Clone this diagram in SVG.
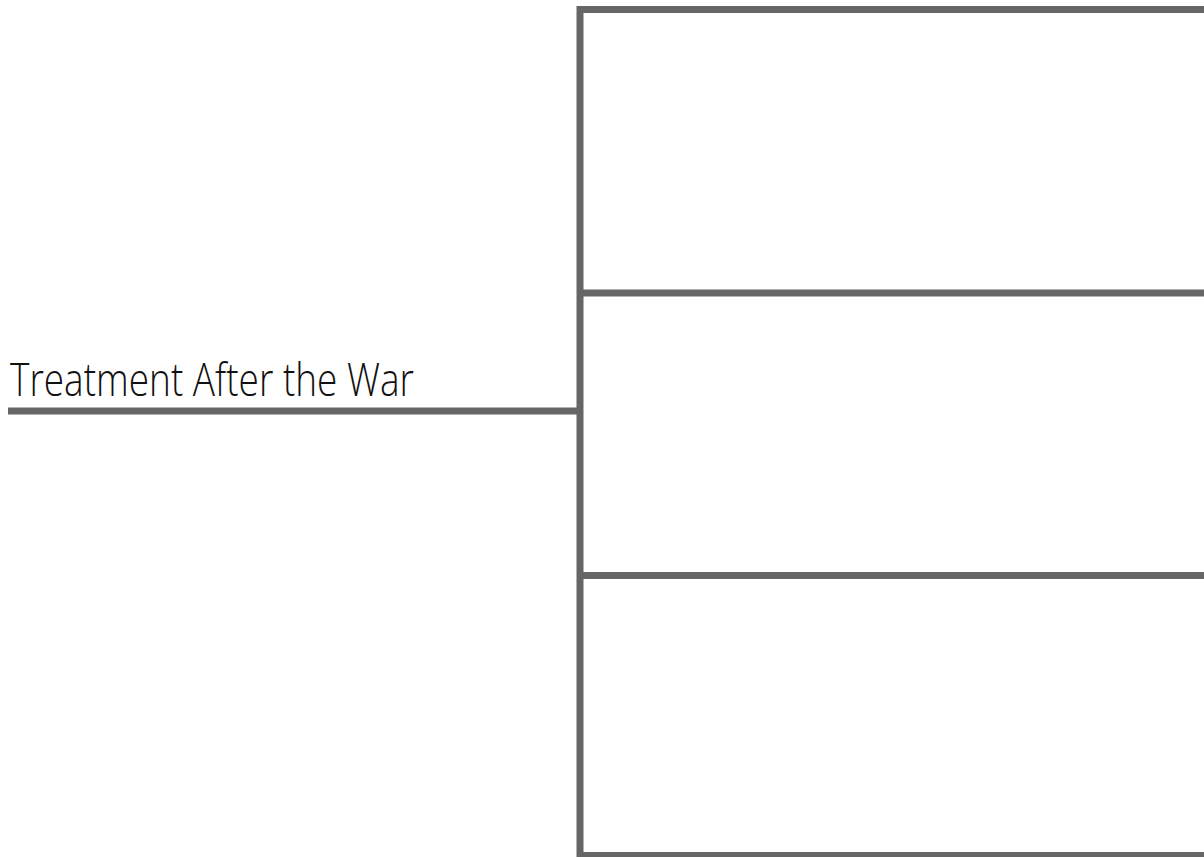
<svg xmlns="http://www.w3.org/2000/svg" width="1204" height="857" viewBox="0 0 1204 857">
<style>
.ln{stroke:#666666;stroke-width:7;fill:none;stroke-linecap:butt}
.lbl{font-family:"Open Sans","Liberation Sans",sans-serif;font-weight:300;font-size:46px;fill:#111111}
</style>
<rect width="1204" height="857" fill="#ffffff"/>
<g id="connectors">
<line class="ln" x1="8" y1="411" x2="580" y2="411"/>
<line class="ln" x1="580" y1="6" x2="580" y2="857"/>
</g>
<g id="root">
<text class="lbl" x="10" y="396" textLength="404" lengthAdjust="spacingAndGlyphs">Treatment After the War</text>
</g>
<g id="box1">
<line class="ln" x1="577" y1="9.5" x2="1204" y2="9.5"/>
</g>
<g id="box2">
<line class="ln" x1="580" y1="293" x2="1204" y2="293"/>
</g>
<g id="box3">
<line class="ln" x1="580" y1="575.5" x2="1204" y2="575.5"/>
</g>
<g id="bottom">
<line class="ln" x1="577" y1="855.5" x2="1204" y2="855.5"/>
</g>
</svg>
